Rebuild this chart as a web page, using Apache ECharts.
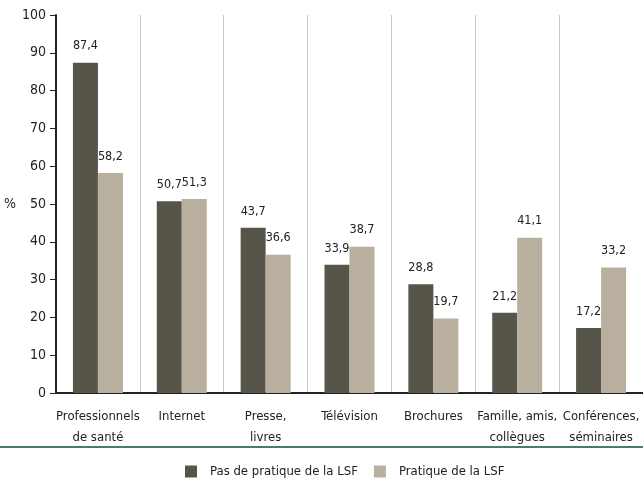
<!DOCTYPE html>
<html><head><meta charset="utf-8">
<script src="https://cdn.jsdelivr.net/npm/echarts@6/dist/echarts.min.js"></script>
<style>html,body{margin:0;padding:0;background:#fff}#c{width:643px;height:482px}</style>
</head><body><div id="c"></div>
<script>
const categories = ["Professionnels\nde santé","Internet","Presse,\nlivres","Télévision","Brochures","Famille, amis,\ncollègues","Conférences,\nséminaires"];
const seriesNames = ["Pas de pratique de la LSF","Pratique de la LSF"];
const noPractice = [87.4,50.7,43.7,33.9,28.8,21.2,17.2];
const practice = [58.2,51.3,36.6,38.7,19.7,41.1,33.2];
const font = '"DejaVu Sans Condensed","Liberation Sans Narrow",sans-serif';
const fmt = p => p.value.toFixed(1).replace('.', ',');
const chart = echarts.init(document.getElementById('c'));
chart.setOption({
  animation:false,
  textStyle:{fontFamily:font},
  grid:{left:56,right:-5,top:15,bottom:89},
  legend:{top:460,left:180,itemWidth:12,itemHeight:12,itemGap:16,icon:'rect',
    textStyle:{fontFamily:font,fontSize:13,color:'#222',padding:[0,0,0,8]},data:seriesNames},
  xAxis:{type:'category',data:categories,
    axisLine:{lineStyle:{color:'#222',width:2}},axisTick:{show:false},
    axisLabel:{fontFamily:font,fontSize:13,color:'#222',margin:13,lineHeight:21,interval:0},
    splitLine:{show:true,lineStyle:{color:'#c8c8c8',width:1}}},
  yAxis:{type:'value',min:0,max:100,interval:10,name:'%',nameLocation:'middle',nameRotate:0,nameGap:33,
    nameTextStyle:{fontFamily:font,fontSize:14,color:'#222'},
    axisLine:{show:true,lineStyle:{color:'#222',width:2}},
    axisTick:{show:true,length:6,lineStyle:{color:'#222'}},
    axisLabel:{fontFamily:font,fontSize:14,color:'#222',margin:10},
    splitLine:{show:false}},
  graphic:[{type:'rect',left:0,top:446,shape:{width:643,height:2},style:{fill:'#4e7a6c'}}],
  series:[
    {name:seriesNames[0],type:'bar',data:noPractice,barWidth:25,barGap:'0%',itemStyle:{color:'#57554a'},
     label:{show:true,position:'top',distance:10,formatter:fmt,fontFamily:font,fontSize:12.5,color:'#222'}},
    {name:seriesNames[1],type:'bar',data:practice,barWidth:25,itemStyle:{color:'#b8af9e'},
     label:{show:true,position:'top',distance:10,formatter:fmt,fontFamily:font,fontSize:12.5,color:'#222'}}
  ]
});
</script></body></html>
